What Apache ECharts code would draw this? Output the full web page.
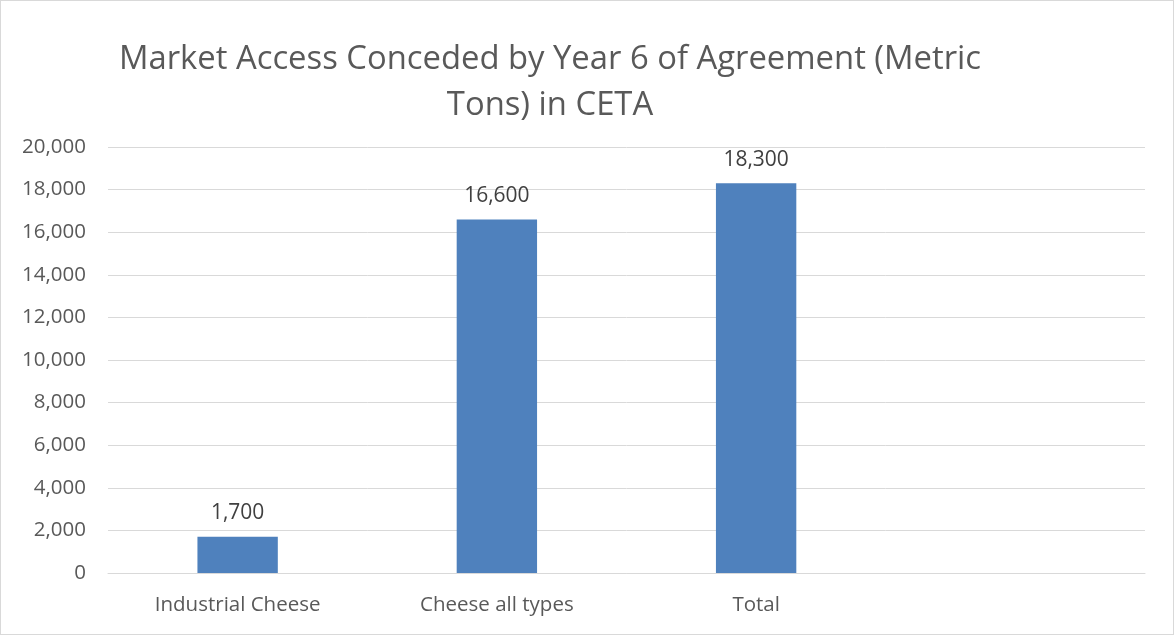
<!DOCTYPE html>
<html>
<head>
<meta charset="utf-8">
<script src="https://cdn.jsdelivr.net/npm/echarts@6/dist/echarts.min.js"></script>
<style>
html,body{margin:0;padding:0;background:#fff;}
#wrap{position:absolute;left:0;top:0;width:1172px;height:633px;border:1px solid #d9d9d9;}
#chart{width:1172px;height:633px;}
</style>
</head>
<body>
<div id="wrap"><div id="chart"></div></div>
<script>
const categories = ['Industrial Cheese', 'Cheese all types', 'Total', ''];
const values = [1700, 16600, 18300, null];
const yTicks = { min: 0, max: 20000, interval: 2000 };
const titleLines = ['Market Access Conceded by Year 6 of Agreement (Metric', 'Tons) in CETA'];

const chart = echarts.init(document.getElementById('chart'));
const font = 'Open Sans, Noto Sans, sans-serif';
chart.setOption({
  animation: false,
  title: {
    text: titleLines.join('\n'),
    left: 544,
    textAlign: 'center',
    top: 31,
    textStyle: { fontFamily: font, fontSize: 32.8, fontWeight: 'normal', color: '#595959', lineHeight: 46 }
  },
  grid: { left: 107, right: 28, top: 146, bottom: 61, containLabel: false },
  xAxis: {
    type: 'category',
    data: categories,
    axisLine: { lineStyle: { color: '#d9d9d9', width: 1 } },
    axisTick: { show: false },
    axisLabel: { fontFamily: font, fontSize: 20.5, color: '#595959', margin: 22 }
  },
  yAxis: {
    type: 'value',
    min: yTicks.min, max: yTicks.max, interval: yTicks.interval,
    axisLine: { show: false },
    axisTick: { show: false },
    splitLine: { lineStyle: { color: '#d9d9d9', width: 1 } },
    axisLabel: {
      fontFamily: font, fontSize: 20.5, color: '#595959', margin: 22,
      formatter: v => v.toLocaleString('en-US')
    }
  },
  series: [{
    type: 'bar',
    data: values,
    barWidth: '31%',
    itemStyle: { color: '#4f81bd' },
    label: {
      show: true, position: 'top', distance: 13,
      fontFamily: font, fontSize: 21, color: '#404040',
      formatter: p => p.value == null ? '' : p.value.toLocaleString('en-US')
    }
  }]
});
</script>
</body>
</html>
